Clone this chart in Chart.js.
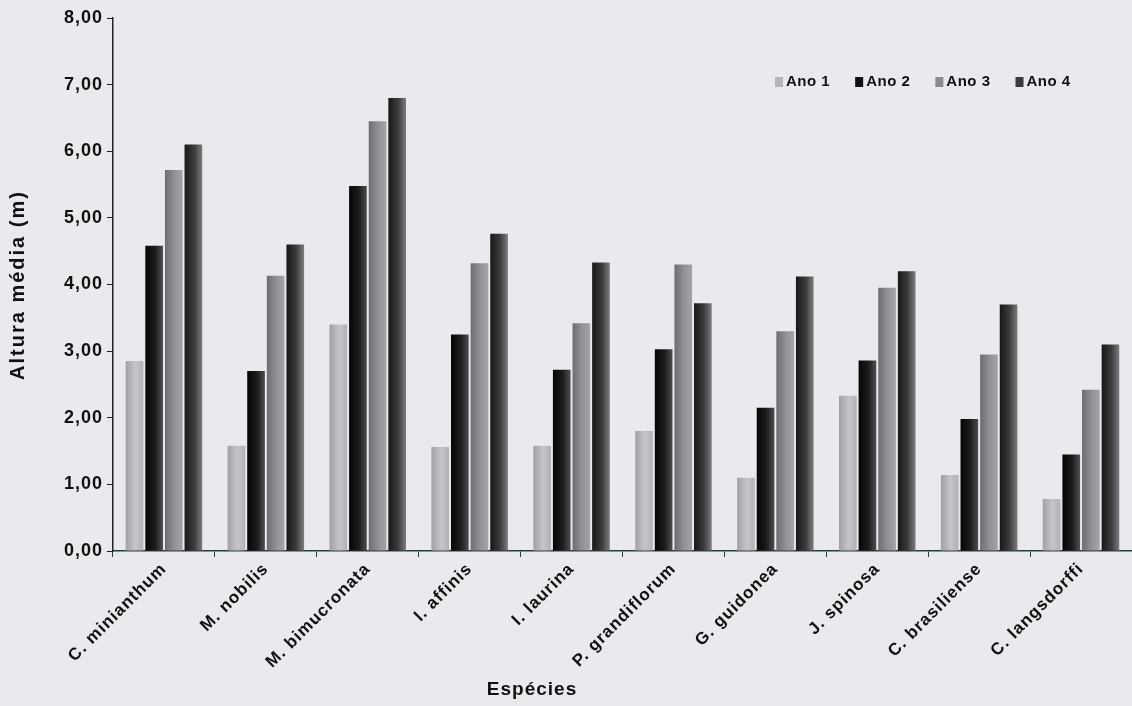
<!DOCTYPE html>
<html>
<head>
<meta charset="utf-8">
<script src="https://cdn.jsdelivr.net/npm/chart.js@4.4.1/dist/chart.umd.min.js"></script>
<style>
html, body { margin: 0; padding: 0; background: #e9eaee; }
#wrap { width: 1132px; height: 706px; position: relative; }
</style>
</head>
<body>
<div id="wrap"><canvas id="alturaChart"></canvas></div>
<script>
// dados
var especies = ['C. minianthum', 'M. nobilis', 'M. bimucronata', 'I. affinis', 'I. laurina',
                'P. grandiflorum', 'G. guidonea', 'J. spinosa', 'C. brasiliense', 'C. langsdorffi'];
var ano1 = [2.85, 1.58, 3.40, 1.56, 1.58, 1.80, 1.10, 2.33, 1.14, 0.78];
var ano2 = [4.58, 2.70, 5.48, 3.25, 2.72, 3.03, 2.15, 2.86, 1.98, 1.45];
var ano3 = [5.72, 4.13, 6.45, 4.32, 3.42, 4.30, 3.30, 3.95, 2.95, 2.42];
var ano4 = [6.10, 4.60, 6.80, 4.76, 4.33, 3.72, 4.12, 4.20, 3.70, 3.10];
var yTicks = ['0,00', '1,00', '2,00', '3,00', '4,00', '5,00', '6,00', '7,00', '8,00'];

var FONT = '"Liberation Sans", Arial, sans-serif';
var CAT_PCT = 0.77;

// gradiente horizontal em cada barra (efeito de cilindro do original)
function barFill(left, mid, right) {
    return function(c) {
        var xs = c.chart.scales.x;
        if (!xs || c.type !== 'data' || !isFinite(xs.width) || xs.width <= 0) return mid;
        var catW = xs.width / especies.length;
        var group = catW * CAT_PCT;
        var slot = group / 4;
        var cx = xs.getPixelForValue(c.dataIndex) - group / 2 + slot * (c.datasetIndex + 0.5);
        if (!isFinite(cx)) return mid;
        var g = c.chart.ctx.createLinearGradient(cx - slot / 2, 0, cx + slot / 2, 0);
        g.addColorStop(0, left);
        g.addColorStop(0.55, mid);
        g.addColorStop(1, right);
        return g;
    };
}

// o texto do original é mais espaçado que o Arial
var espacamento = {
    id: 'espacamento',
    beforeLayout: function(chart) { chart.ctx.letterSpacing = '1px'; },
    beforeDraw: function(chart) { chart.ctx.letterSpacing = '1px'; }
};

// legenda dentro da área do gráfico + títulos dos eixos
var legendaPlugin = {
    id: 'legenda',
    afterDraw: function(chart) {
        var ctx = chart.ctx;
        ctx.save();
        ctx.letterSpacing = '0.5px';
        ctx.font = 'bold 15px ' + FONT;
        ctx.textBaseline = 'middle';
        var x = 775, y = 82;
        chart.data.datasets.forEach(function(ds) {
            ctx.fillStyle = ds.legendColor;
            ctx.fillRect(x, y - 5, 8, 10);
            ctx.fillStyle = '#111';
            ctx.fillText(ds.label, x + 11, y);
            x += 11 + ctx.measureText(ds.label).width + 25;
        });
        ctx.textAlign = 'center';
        ctx.letterSpacing = '1px';
        ctx.font = 'bold 19px ' + FONT;
        ctx.fillText('Espécies', 532, 690);

        ctx.translate(18, 285);
        ctx.rotate(-Math.PI / 2);
        ctx.letterSpacing = '2px';
        ctx.font = 'bold 20px ' + FONT;
        ctx.fillText('Altura média (m)', 0, 0);
        ctx.restore();
    }
};

var ctx = document.getElementById('alturaChart').getContext('2d');
var alturaChart = new Chart(ctx, {
    type: 'bar',
    data: {
        labels: especies,
        datasets: [
            { label: 'Ano 1', data: ano1, legendColor: '#b4b4b9',
              backgroundColor: barFill('#9c9ca1', '#c6c6ca', '#aeaeb3') },
            { label: 'Ano 2', data: ano2, legendColor: '#111111',
              backgroundColor: barFill('#030303', '#1c1c1c', '#555557') },
            { label: 'Ano 3', data: ano3, legendColor: '#8c8c90',
              backgroundColor: barFill('#69696d', '#939397', '#a6a6aa') },
            { label: 'Ano 4', data: ano4, legendColor: '#3a3a3a',
              backgroundColor: barFill('#141414', '#3c3c3e', '#858588') }
        ]
    },
    options: {
        responsive: true,
        maintainAspectRatio: false,
        animation: false,
        layout: { padding: { top: 18, right: 0, left: 0, bottom: 0 } },
        datasets: { bar: { categoryPercentage: CAT_PCT, barPercentage: 0.9, borderWidth: 0 } },
        plugins: {
            legend: { display: false },
            tooltip: { enabled: false }
        },
        scales: {
            x: {
                grid: { display: true, drawOnChartArea: false, drawTicks: true, tickLength: 6, color: '#2c3a3a', offset: true },
                border: { display: true, color: '#2c3a3a', width: 1.5 },
                ticks: {
                    maxRotation: 45, minRotation: 45, padding: 2, color: '#111',
                    font: { family: FONT, size: 17, weight: 'bold' }
                },
                afterFit: function(s) { s.height = 155; }
            },
            y: {
                min: 0, max: 8,
                grid: { display: true, drawOnChartArea: false, drawTicks: true, tickLength: 6, color: '#222' },
                border: { display: true, color: '#222', width: 1.5 },
                ticks: {
                    stepSize: 1, padding: 4, color: '#111',
                    font: { family: FONT, size: 18, weight: 'bold' },
                    callback: function(v, i) { return yTicks[i]; }
                },
                afterFit: function(s) { s.width = 113; }
            }
        }
    },
    plugins: [espacamento, legendaPlugin]
});
</script>
</body>
</html>
